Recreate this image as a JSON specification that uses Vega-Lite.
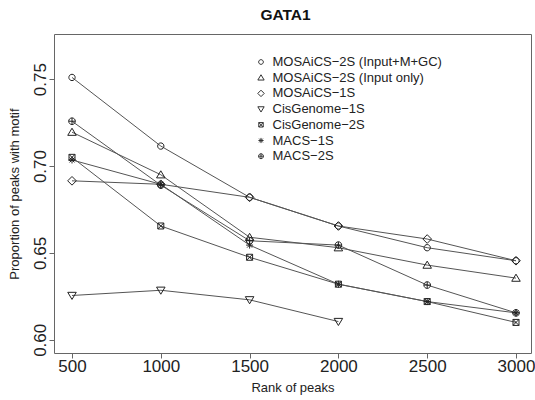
{
  "$schema": "https://vega.github.io/schema/vega-lite/v6.json",
  "width": 477,
  "height": 319,
  "autosize": {"type": "none"},
  "padding": {"left": 54, "top": 34, "right": 4, "bottom": 47},
  "config": {"view": {"stroke": "#666", "strokeWidth": 1}, "font": "Liberation Sans"},
  "title": {"text": "GATA1", "fontSize": 15.5, "fontWeight": "bold", "font": "Liberation Sans", "color": "#111", "baseline": "alphabetic", "offset": -1, "dx": -7},
  "data": {"values": [
    {"method": "MOSAiCS−2S (Input+M+GC)", "rank": 500, "p": 0.751},
    {"method": "MOSAiCS−2S (Input+M+GC)", "rank": 1000, "p": 0.7115},
    {"method": "MOSAiCS−2S (Input+M+GC)", "rank": 1500, "p": 0.682},
    {"method": "MOSAiCS−2S (Input+M+GC)", "rank": 2000, "p": 0.6655},
    {"method": "MOSAiCS−2S (Input+M+GC)", "rank": 2500, "p": 0.653},
    {"method": "MOSAiCS−2S (Input+M+GC)", "rank": 3000, "p": 0.6455},
    {"method": "MOSAiCS−2S (Input only)", "rank": 500, "p": 0.7195},
    {"method": "MOSAiCS−2S (Input only)", "rank": 1000, "p": 0.695},
    {"method": "MOSAiCS−2S (Input only)", "rank": 1500, "p": 0.659},
    {"method": "MOSAiCS−2S (Input only)", "rank": 2000, "p": 0.653},
    {"method": "MOSAiCS−2S (Input only)", "rank": 2500, "p": 0.643},
    {"method": "MOSAiCS−2S (Input only)", "rank": 3000, "p": 0.6355},
    {"method": "MOSAiCS−1S", "rank": 500, "p": 0.6915},
    {"method": "MOSAiCS−1S", "rank": 1000, "p": 0.6895},
    {"method": "MOSAiCS−1S", "rank": 1500, "p": 0.682},
    {"method": "MOSAiCS−1S", "rank": 2000, "p": 0.6655},
    {"method": "MOSAiCS−1S", "rank": 2500, "p": 0.658},
    {"method": "MOSAiCS−1S", "rank": 3000, "p": 0.6455},
    {"method": "CisGenome−1S", "rank": 500, "p": 0.6255},
    {"method": "CisGenome−1S", "rank": 1000, "p": 0.6285},
    {"method": "CisGenome−1S", "rank": 1500, "p": 0.623},
    {"method": "CisGenome−1S", "rank": 2000, "p": 0.6105},
    {"method": "CisGenome−2S", "rank": 500, "p": 0.705},
    {"method": "CisGenome−2S", "rank": 1000, "p": 0.6655},
    {"method": "CisGenome−2S", "rank": 1500, "p": 0.6475},
    {"method": "CisGenome−2S", "rank": 2000, "p": 0.632},
    {"method": "CisGenome−2S", "rank": 2500, "p": 0.622},
    {"method": "CisGenome−2S", "rank": 3000, "p": 0.610},
    {"method": "MACS−1S", "rank": 500, "p": 0.7035},
    {"method": "MACS−1S", "rank": 1000, "p": 0.6895},
    {"method": "MACS−1S", "rank": 1500, "p": 0.6545},
    {"method": "MACS−1S", "rank": 2000, "p": 0.632},
    {"method": "MACS−1S", "rank": 2500, "p": 0.622},
    {"method": "MACS−1S", "rank": 3000, "p": 0.6155},
    {"method": "MACS−2S", "rank": 500, "p": 0.7258},
    {"method": "MACS−2S", "rank": 1000, "p": 0.689},
    {"method": "MACS−2S", "rank": 1500, "p": 0.657},
    {"method": "MACS−2S", "rank": 2000, "p": 0.6545},
    {"method": "MACS−2S", "rank": 2500, "p": 0.6315},
    {"method": "MACS−2S", "rank": 3000, "p": 0.6155}
  ]},
  "encoding": {
    "x": {"field": "rank", "type": "quantitative",
      "scale": {"domain": [398.6, 3084.5], "nice": false, "zero": false},
      "axis": {"values": [500, 1000, 1500, 2000, 2500, 3000], "format": "d", "title": "Rank of peaks",
        "titleFontSize": 13, "titleFontWeight": "normal", "titleColor": "#222", "titleBaseline": "alphabetic", "titleY": 38,
        "labelFontSize": 17, "labelColor": "#222", "labelPadding": 0.5, "labelBaseline": "top", "labelFlush": false, "labelOverlap": false,
        "tickSize": 5, "tickColor": "#666", "domain": false, "grid": false}},
    "y": {"field": "p", "type": "quantitative",
      "scale": {"domain": [0.5924, 0.776], "nice": false, "zero": false},
      "axis": {"values": [0.6, 0.65, 0.7, 0.75], "format": ".2f", "title": "Proportion of peaks with motif",
        "titleFontSize": 13, "titleFontWeight": "normal", "titleColor": "#222", "titleBaseline": "alphabetic", "titleAngle": 270, "titleAlign": "center", "titleX": -36, "titleY": 159.5,
        "labelFontSize": 17, "labelColor": "#222", "labelAngle": 270, "labelAlign": "center", "labelBaseline": "alphabetic", "labelPadding": 4, "labelFlush": false, "labelOverlap": false,
        "tickSize": 5, "tickColor": "#666", "domain": false, "grid": false}}
  },
  "layer": [
    {"mark": {"type": "line", "color": "#555", "strokeWidth": 1}, "encoding": {"detail": {"field": "method"}}},
    {"mark": {"type": "point", "filled": false, "color": "#222", "strokeWidth": 1, "size": 40, "opacity": 1},
      "encoding": {"shape": {"field": "method", "type": "nominal",
        "scale": {"domain": ["MOSAiCS−2S (Input+M+GC)", "MOSAiCS−2S (Input only)", "MOSAiCS−1S", "CisGenome−1S", "CisGenome−2S", "MACS−1S", "MACS−2S"],
          "range": [
            "M-1,0A1,1,0,1,0,1,0A1,1,0,1,0,-1,0Z",
            "M0,-1.25L1.35,1.0L-1.35,1.0Z",
            "M0,-1.37L1.37,0L0,1.37L-1.37,0Z",
            "M0,1.25L1.35,-1.0L-1.35,-1.0Z",
            "M-0.95,-0.95L0.95,-0.95L0.95,0.95L-0.95,0.95ZM-0.95,-0.95L0.95,0.95M-0.95,0.95L0.95,-0.95",
            "M0,-1.1L0,1.1M-1.1,0L1.1,0M-0.78,-0.78L0.78,0.78M-0.78,0.78L0.78,-0.78",
            "M-1.05,0A1.05,1.05,0,1,0,1.05,0A1.05,1.05,0,1,0,-1.05,0ZM-1.05,0L1.05,0M0,-1.05L0,1.05"
          ]},
        "legend": {"orient": "none", "legendX": 200.5, "legendY": 21.5, "title": null, "padding": 0,
          "labelFontSize": 13, "labelColor": "#222", "labelOffset": 5, "labelLimit": 300, "rowPadding": 1.7,
          "symbolSize": 22, "symbolStrokeWidth": 1, "symbolStrokeColor": "#333", "symbolFillColor": "transparent"}}}}
  ]
}
